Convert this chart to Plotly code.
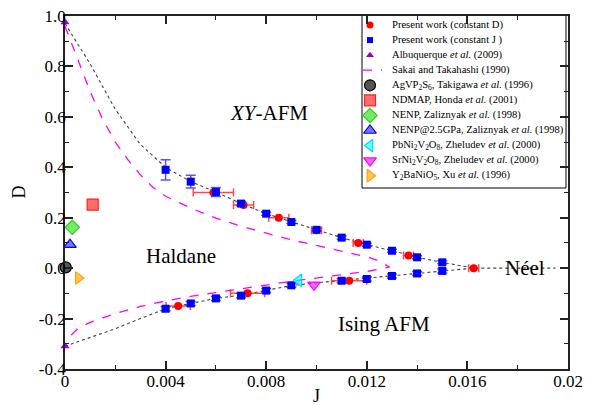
import plotly.graph_objects as go

# ---- data ----
# Present work, constant D (red circles, horizontal error bars)
redJ = [0.0059, 0.0071, 0.0085, 0.0100, 0.01166, 0.01366, 0.01625, 0.0045, 0.00726, 0.0113]
redD = [0.30, 0.25, 0.20, 0.15, 0.10, 0.05, 0.0, -0.15, -0.10, -0.05]
redErrJ = [0.0008, 0.0004, 0.0004, 0.0002, 0.0002, 0.0002, 0.0002, 0.00048, 0.00068, 0.0007]

# Present work, constant J (blue squares, vertical error bars)
blueJ = [0.004, 0.005, 0.006, 0.007, 0.008, 0.009, 0.010, 0.011, 0.012, 0.013, 0.014, 0.015,
         0.004, 0.005, 0.006, 0.007, 0.008, 0.009, 0.011, 0.012, 0.013, 0.014, 0.015]
blueD = [0.39, 0.343, 0.302, 0.256, 0.216, 0.183, 0.152, 0.121, 0.093, 0.069, 0.043, 0.023,
         -0.161, -0.14, -0.12, -0.109, -0.089, -0.068, -0.05, -0.043, -0.031, -0.021, -0.011]
blueErrD = [0.04, 0.025, 0.018, 0.008, 0.006, 0.006, 0.006, 0.006, 0.006, 0.006, 0.006, 0.006,
            0.008, 0.008, 0.008, 0.008, 0.008, 0.008, 0.008, 0.008, 0.008, 0.008, 0.008]

# Albuquerque et al. (2009)
albJ = [0.0, 0.0]
albD = [0.975, -0.31]

# Dotted guide lines (black)
dotUpJ = [0.0, 0.001, 0.002, 0.003, 0.004, 0.005, 0.006, 0.007, 0.008, 0.009, 0.010,
          0.011, 0.012, 0.013, 0.014, 0.015, 0.01625, 0.0195]
dotUpD = [0.97, 0.81, 0.63, 0.49, 0.40, 0.343, 0.302, 0.256, 0.216, 0.183, 0.152,
          0.121, 0.093, 0.069, 0.043, 0.023, 0.0, 0.0]
dotLoJ = [0.0, 0.001, 0.002, 0.003, 0.004, 0.005, 0.006, 0.007, 0.008, 0.009, 0.010,
          0.011, 0.012, 0.013, 0.014, 0.015, 0.01625]
dotLoD = [-0.31, -0.275, -0.24, -0.2, -0.161, -0.14, -0.12, -0.107, -0.089, -0.069, -0.058,
          -0.049, -0.041, -0.031, -0.021, -0.011, 0.0]

# Sakai and Takahashi (1990), magenta dashed
sakJ = [0.0, 0.0005, 0.001, 0.0015, 0.002, 0.0025, 0.003, 0.0035, 0.004, 0.005, 0.006,
        0.007, 0.008, 0.009, 0.010, 0.011, 0.012, 0.0125, 0.0129,
        0.012, 0.011, 0.010, 0.009, 0.008, 0.007, 0.006, 0.005, 0.004, 0.003, 0.002,
        0.001, 0.0005, 0.0002]
sakD = [0.96, 0.83, 0.70, 0.59, 0.50, 0.43, 0.37, 0.32, 0.285, 0.238, 0.198,
        0.166, 0.138, 0.112, 0.09, 0.068, 0.045, 0.028, 0.004,
        -0.013, -0.026, -0.038, -0.052, -0.067, -0.082, -0.096, -0.112, -0.13, -0.152, -0.18,
        -0.215, -0.24, -0.27]

# Experimental compounds
expNames = ["AgVP<sub>2</sub>S<sub>6</sub>, Takigawa <i>et al.</i> (1996)",
            "NDMAP, Honda <i>et al.</i> (2001)",
            "NENP, Zaliznyak <i>et al.</i> (1998)",
            "NENP@2.5GPa, Zaliznyak <i>et al.</i> (1998)",
            "PbNi<sub>2</sub>V<sub>2</sub>O<sub>8</sub>, Zheludev <i>et al.</i> (2000)",
            "SrNi<sub>2</sub>V<sub>2</sub>O<sub>8</sub>, Zheludev <i>et al.</i> (2000)",
            "Y<sub>2</sub>BaNiO<sub>5</sub>, Xu <i>et al.</i> (1996)"]
expJ = [0.00003, 0.0011, 0.00029, 0.0002, 0.0093, 0.0099, 0.00053]
expD = [0.003, 0.252, 0.162, 0.093, -0.048, -0.066, -0.039]
expSymbols = ["circle", "square", "diamond", "triangle-up", "triangle-left", "triangle-down", "triangle-right"]
expFill = ["#555555", "rgba(255,60,60,0.75)", "rgba(80,230,60,0.8)", "rgba(60,60,255,0.7)",
           "rgba(0,255,255,0.6)", "rgba(255,0,255,0.6)", "rgba(255,165,0,0.65)"]
expLine = ["#000000", "#ff2020", "#33cc22", "#0000ff", "#00dddd", "#ff00ff", "#ffa500"]

# Legend labels
legNames = ["Present work (constant D)", "Present work (constant J )",
            "Albuquerque <i>et al.</i> (2009)", "Sakai and Takahashi (1990)"] + expNames

# Axis ticks
xTickVals = [0, 0.004, 0.008, 0.012, 0.016, 0.02]
xTickText = ["0", "0.004", "0.008", "0.012", "0.016", "0.02"]
yTickVals = [-0.4, -0.2, 0.0, 0.2, 0.4, 0.6, 0.8, 1.0]
yTickText = ["-0.4", "-0.2", "0.0", "0.2", "0.4", "0.6", "0.8", "1.0"]

# Region labels
labText = ["<i>XY</i>-AFM", "Haldane", "Néel", "Ising AFM"]
labJ = [0.0081, 0.0046, 0.0183, 0.0127]
labD = [0.615, 0.05, 0.0, -0.222]

FONT = "Liberation Serif, Times New Roman, serif"
PLOT_W, PLOT_H = 503, 353
fig = go.Figure()

# guide lines
for xs, ys in ((dotUpJ, dotUpD), (dotLoJ, dotLoD)):
    fig.add_trace(go.Scatter(x=xs, y=ys, mode="lines", line=dict(color="#444444", width=1.1, dash="dot"),
                             hoverinfo="skip"))

fig.add_trace(go.Scatter(x=sakJ, y=sakD, mode="lines", line=dict(color="#ff00ff", width=1.3, dash="dash")))

fig.add_trace(go.Scatter(x=redJ, y=redD, mode="markers",
                         marker=dict(symbol="circle", color="#ff0000", size=8),
                         error_x=dict(type="data", array=redErrJ, color="rgba(255,40,40,0.85)", thickness=1.5, width=4)))
fig.add_trace(go.Scatter(x=blueJ, y=blueD, mode="markers",
                         marker=dict(symbol="square", color="#0000ff", size=8),
                         error_y=dict(type="data", array=blueErrD, color="rgba(40,40,255,0.8)", thickness=1.5, width=5)))
fig.add_trace(go.Scatter(x=albJ, y=albD, mode="markers", cliponaxis=False,
                         marker=dict(symbol="triangle-up", color="#9400d3", size=8)))

for i in range(len(expNames)):
    fig.add_trace(go.Scatter(x=[expJ[i]], y=[expD[i]], mode="markers", cliponaxis=False,
                             marker=dict(symbol=expSymbols[i], color=expFill[i], size=11,
                                         line=dict(color=expLine[i], width=1.2))))

for t, xj, yd in zip(labText, labJ, labD):
    fig.add_annotation(x=xj, y=yd, text=t, showarrow=False, font=dict(family=FONT, size=21, color="black"))

# axis titles
fig.add_annotation(x=0.5, y=-27 / PLOT_H, xref="paper", yref="paper", text="J", showarrow=False,
                   xanchor="center", yanchor="middle", font=dict(family=FONT, size=18, color="black"))
fig.add_annotation(x=-47 / PLOT_W, y=0.5, xref="paper", yref="paper", text="D", showarrow=False,
                   textangle=-90, xanchor="center", yanchor="middle",
                   font=dict(family=FONT, size=18, color="black"))

# ---- legend box drawn on an overlay axis measured in pixels from the plot's top-left ----
boxL, boxR, boxT, boxB = 297, 501, -1, 172
rowTop, rowStep = 9.0, 15.07
symX, txtX = 305, 325
fig.add_shape(type="rect", xref="x2", yref="y2", x0=boxL, x1=boxR, y0=boxT, y1=boxB,
              line=dict(color="black", width=1), fillcolor="white", layer="below")
legMarkers = [dict(symbol="circle", color="#ff0000", size=7),
              dict(symbol="square", color="#0000ff", size=6),
              dict(symbol="triangle-up", color="#9400d3", size=7),
              None] + [dict(symbol=s, color=f, size=11, line=dict(color=l, width=1.2))
                       for s, f, l in zip(expSymbols, expFill, expLine)]
for i, (name, mk) in enumerate(zip(legNames, legMarkers)):
    yc = rowTop + i * rowStep
    if mk is None:
        fig.add_trace(go.Scatter(x=[boxL + 1, boxL + 20], y=[yc, yc], mode="lines", xaxis="x2", yaxis="y2",
                                 line=dict(color="#ff00ff", width=1.3, dash="dash"), hoverinfo="skip"))
    else:
        fig.add_trace(go.Scatter(x=[symX], y=[yc], mode="markers", xaxis="x2", yaxis="y2",
                                 marker=mk, hoverinfo="skip"))
    fig.add_annotation(x=txtX, y=yc, xref="x2", yref="y2", text=name, showarrow=False,
                       xanchor="left", yanchor="middle", font=dict(family=FONT, size=10.6, color="black"))

axis_common = dict(showline=True, linecolor="#222222", linewidth=1.8, mirror="allticks", ticks="inside",
                   ticklen=8, tickwidth=1.5, tickcolor="#222222", showgrid=False, zeroline=False,
                   automargin=False, tickfont=dict(family=FONT, size=17, color="black"))
xaxis = dict(range=[0, 0.02], tickmode="array", tickvals=xTickVals, ticktext=xTickText,
             ticklabelstandoff=-4,
             minor=dict(ticks="inside", ticklen=4, dtick=0.002, tickcolor="#222222", tickwidth=1.2),
             **axis_common)
yaxis = dict(range=[-0.4, 1.0], tickmode="array", tickvals=yTickVals, ticktext=yTickText,
             ticklabelstandoff=-6,
             minor=dict(ticks="inside", ticklen=4, dtick=0.1, tickcolor="#222222", tickwidth=1.2),
             **axis_common)

fig.update_layout(width=590, height=405, margin=dict(l=65, r=22, t=16, b=36, autoexpand=False),
                  paper_bgcolor="white", plot_bgcolor="white", showlegend=False,
                  font=dict(family=FONT, color="black"),
                  xaxis=xaxis, yaxis=yaxis,
                  xaxis2=dict(overlaying="x", range=[0, PLOT_W], visible=False, fixedrange=True),
                  yaxis2=dict(overlaying="y", range=[PLOT_H, 0], visible=False, fixedrange=True))

fig.write_html("out.html", config={"displayModeBar": False},
               post_script="document.body.style.margin='0px';")
